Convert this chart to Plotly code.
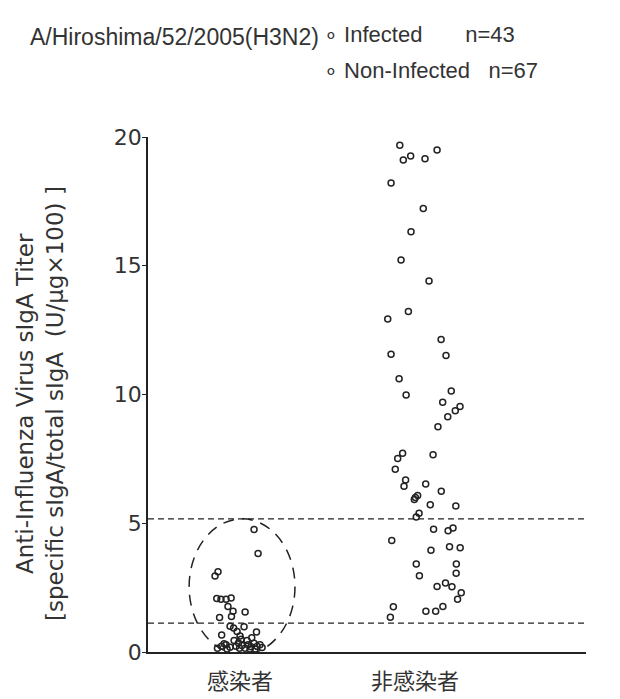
import plotly.graph_objects as go

# ---------------- data ----------------
categories = ["感染者", "非感染者"]
category_pos = [1, 2]

infected_titer = [4.76, 3.83, 3.12, 2.95, 2.08, 2.05, 2.05, 2.10, 1.77, 1.58,
                  1.55, 1.38, 1.34, 1.00, 0.93, 0.80, 0.98, 0.66, 0.78, 0.62,
                  0.50, 0.55, 0.35, 0.22, 0.15, 0.32, 0.15, 0.22, 0.12, 0.28,
                  0.20, 0.34, 0.22, 0.28, 0.12, 0.12, 0.17, 0.15, 0.45, 0.28,
                  0.45, 0.25, 0.18]
infected_jitter = [0.080, 0.103, -0.126, -0.143, -0.133, -0.109, -0.080, -0.051, -0.069, -0.040,
                   0.029, -0.049, -0.117, -0.057, -0.037, -0.017, 0.023, -0.105, 0.094, 0.000,
                   0.006, 0.067, -0.009, -0.023, -0.003, -0.091, -0.129, -0.106, -0.074, 0.046,
                   0.063, 0.080, 0.097, 0.114, 0.057, 0.086, 0.126, 0.029, -0.034, -0.080,
                   0.040, 0.011, -0.057]

noninfected_titer = [19.68, 19.50, 19.11, 19.26, 19.16, 18.21, 17.22, 16.32, 15.22, 14.41,
                     13.22, 12.93, 12.14, 11.56, 11.51, 10.61, 9.98, 10.14, 9.70, 9.53,
                     9.37, 9.14, 8.75, 7.72, 7.51, 7.66, 7.10, 6.68, 6.44, 6.52,
                     6.24, 6.08, 5.92, 6.00, 5.72, 5.67, 5.39, 5.24, 4.77, 4.71,
                     4.82, 4.33, 3.95, 4.09, 4.05, 3.42, 3.42, 2.96, 3.06, 2.54,
                     2.68, 2.53, 2.30, 2.05, 1.76, 1.77, 1.58, 1.58, 1.35]
noninfected_jitter = [-0.087, 0.126, -0.067, -0.025, 0.057, -0.137, 0.047, -0.023, -0.080, 0.080,
                      -0.038, -0.156, 0.149, -0.137, 0.177, -0.091, -0.051, 0.207, 0.158, 0.257,
                      0.230, 0.187, 0.131, -0.071, -0.099, 0.103, -0.113, -0.054, -0.063, 0.061,
                      0.150, 0.015, -0.004, 0.002, 0.087, 0.233, 0.023, 0.007, 0.106, 0.189,
                      0.217, -0.133, 0.091, 0.197, 0.258, 0.007, 0.236, 0.025, 0.235, 0.126,
                      0.174, 0.211, 0.264, 0.243, -0.124, 0.159, 0.062, 0.118, -0.141]

threshold_levels = [5.17, 1.12]
ellipse_bounds_x = [0.709, 1.314]
ellipse_bounds_y = [-0.1, 5.17]

legend_labels = ["Infected", "Non-Infected"]
legend_counts = ["n=43", "n=67"]
title_text = "A/Hiroshima/52/2005(H3N2)"
ytitle_lines = ["Anti-Influenza Virus sIgA Titer",
                "[specific sIgA/total sIgA\u00a0\u00a0(U/μg×100) ]"]
y_ticks = [0, 5, 10, 15, 20]

# ---------------- figure ----------------
INK = "#222222"
TXT = "#333333"
LAT = "Liberation Sans, Arial, Helvetica, sans-serif"
WIDE = "DejaVu Sans, Verdana, sans-serif"
CJK = "Noto Sans CJK JP, Noto Sans CJK SC, sans-serif"
NB = "\u00a0"

fig = go.Figure()
marker = dict(symbol="circle-open", size=6, color=INK, line=dict(width=1.5, color=INK))

fig.add_trace(go.Scatter(
    x=[category_pos[0] + d for d in infected_jitter], y=infected_titer,
    mode="markers", marker=marker, name=legend_labels[0], showlegend=False,
    cliponaxis=False))
fig.add_trace(go.Scatter(
    x=[category_pos[1] + d for d in noninfected_jitter], y=noninfected_titer,
    mode="markers", marker=marker, name=legend_labels[1], showlegend=False,
    cliponaxis=False))

for lvl in threshold_levels:
    fig.add_shape(type="line", xref="paper", yref="y", x0=0, x1=1, y0=lvl, y1=lvl,
                  line=dict(color=INK, width=1.2, dash="6px,4px"), layer="below")

fig.add_shape(type="circle", xref="x", yref="y",
              x0=ellipse_bounds_x[0], x1=ellipse_bounds_x[1],
              y0=ellipse_bounds_y[0], y1=ellipse_bounds_y[1],
              line=dict(color=INK, width=1.5, dash="11px,8px"), layer="below")

# Title & legend text
fig.add_annotation(text=title_text, xref="paper", yref="paper",
                   x=(28 - 148) / 438, y=(652 - 37) / 515, xanchor="left", yanchor="middle",
                   showarrow=False, font=dict(family=LAT, size=23, color=TXT))
legend_gaps = [7, 3]
for lab, cnt, gap, ypx in zip(legend_labels, legend_counts, legend_gaps, [35, 70]):
    fig.add_annotation(text="∘" + NB + lab + NB * gap + cnt, xref="paper", yref="paper",
                       x=(322 - 148) / 438, y=(652 - ypx) / 515, xanchor="left", yanchor="middle",
                       showarrow=False, font=dict(family=LAT, size=22, color=TXT))

# Y axis title (two lines)
for lab, xpx in zip(ytitle_lines, [25, 55]):
    fig.add_annotation(text=lab, xref="paper", yref="paper",
                       x=(xpx - 148) / 438, y=(652 - 404) / 515, xanchor="center", yanchor="middle",
                       textangle=-90, showarrow=False, font=dict(family=WIDE, size=23, color=TXT))

fig.update_layout(
    width=620, height=699,
    margin=dict(l=148, r=34, t=137, b=47),
    paper_bgcolor="white", plot_bgcolor="white",
    showlegend=False,
    xaxis=dict(range=[0.474, 2.977], tickvals=category_pos, ticktext=categories,
               showline=True, linecolor=INK, linewidth=1.5, showgrid=False, zeroline=False,
               ticks="", ticklabelstandoff=9, automargin=False,
               tickfont=dict(family=CJK, size=22, color=TXT)),
    yaxis=dict(range=[0, 20], tickvals=y_ticks, showline=True, linecolor=INK, linewidth=1.5,
               showgrid=False, zeroline=False, ticks="outside", ticklen=4, tickwidth=1.2,
               tickcolor=INK, automargin=False, ticklabelstandoff=-4,
               tickfont=dict(family=WIDE, size=22, color=TXT)),
)

fig.write_html("out.html", config={"displayModeBar": False},
               post_script="document.body.style.margin='0px';document.body.style.overflow='hidden';")
